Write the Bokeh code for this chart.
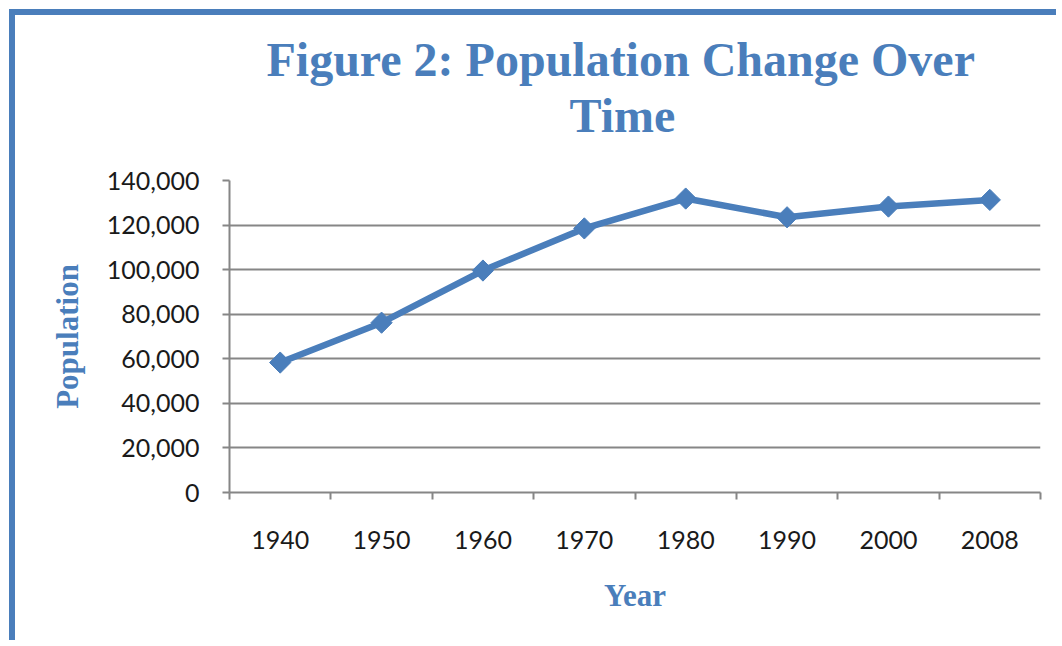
import math
from bokeh.plotting import figure
from bokeh.models import (LinearAxis, FixedTicker, NumeralTickFormatter, Range1d, Title, ColumnDataSource)
from bokeh.embed import file_html
from bokeh.resources import INLINE

years = ["1940", "1950", "1960", "1970", "1980", "1990", "2000", "2008"]
population = [58300, 76200, 99600, 118500, 131900, 123500, 128300, 131300]
y_ticks = [0, 20000, 40000, 60000, 80000, 100000, 120000, 140000]
title_lines = ["Figure 2: Population Change Over", "Time"]

BLUE = "#4A7EBB"
GRAY = "#868686"

xpos = [i + 0.5 for i in range(len(years))]
src = ColumnDataSource(dict(x=xpos, y=population))

p = figure(width=1047, height=631, output_backend="svg", toolbar_location=None,
           x_range=Range1d(0, len(years)), y_range=Range1d(0, 140000),
           x_axis_location=None, y_axis_location=None,
           min_border_left=214, min_border_right=22, min_border_top=165, min_border_bottom=154)
p.styles = {"border-left": "6px solid " + BLUE, "border-top": "6px solid " + BLUE,
            "margin-left": "9px", "margin-top": "9px"}
p.outline_line_color = None
p.background_fill_color = "white"
p.border_fill_color = "white"

t2 = Title(text=title_lines[1], align="left", offset=340,
           text_font="Liberation Serif", text_font_style="bold", text_font_size="48px",
           text_color=BLUE, standoff=78)
t1 = Title(text=title_lines[0], align="left", offset=37,
           text_font="Liberation Serif", text_font_style="bold", text_font_size="48px",
           text_color=BLUE, standoff=-76)
p.add_layout(t2, "above")
p.add_layout(t1, "above")

xaxis = LinearAxis(ticker=FixedTicker(ticks=xpos, minor_ticks=list(range(len(years) + 1))),
                   major_label_overrides={x: y for x, y in zip(xpos, years)})
xaxis.major_tick_out = 0
xaxis.major_tick_in = 0
xaxis.minor_tick_out = 7
xaxis.minor_tick_in = 0
xaxis.minor_tick_line_color = GRAY
xaxis.minor_tick_line_width = 2
xaxis.axis_line_color = GRAY
xaxis.axis_line_width = 2
xaxis.major_label_text_font = "Lato"
xaxis.major_label_text_font_size = "25px"
xaxis.major_label_text_color = "#1a1a1a"
xaxis.major_label_standoff = 31
xaxis.axis_label = "Year"
xaxis.axis_label_text_font = "Liberation Serif"
xaxis.axis_label_text_font_style = "bold"
xaxis.axis_label_text_font_size = "31px"
xaxis.axis_label_text_color = BLUE
xaxis.axis_label_standoff = 26
p.add_layout(xaxis, "below")

yaxis = LinearAxis(ticker=FixedTicker(ticks=y_ticks), formatter=NumeralTickFormatter(format="0,0"))
yaxis.major_tick_out = 7
yaxis.major_tick_in = 0
yaxis.minor_tick_line_color = None
yaxis.major_tick_line_color = GRAY
yaxis.major_tick_line_width = 2
yaxis.axis_line_color = GRAY
yaxis.axis_line_width = 2
yaxis.major_label_text_font = "Lato"
yaxis.major_label_text_font_size = "25px"
yaxis.major_label_text_color = "#1a1a1a"
yaxis.major_label_standoff = 23
yaxis.axis_label = "Population"
yaxis.axis_label_text_font = "Liberation Serif"
yaxis.axis_label_text_font_style = "bold"
yaxis.axis_label_text_font_size = "31px"
yaxis.axis_label_text_color = BLUE
yaxis.axis_label_standoff = 19
p.add_layout(yaxis, "left")

p.ygrid.ticker = FixedTicker(ticks=y_ticks)
p.ygrid.grid_line_color = GRAY
p.ygrid.grid_line_width = 2
p.xgrid.grid_line_color = None

p.line("x", "y", source=src, line_color=BLUE, line_width=6.5)
p.scatter("x", "y", source=src, marker="square", angle=math.pi / 4, size=15,
          fill_color=BLUE, line_color=BLUE)

open("out.html", "w").write(file_html(p, INLINE))
